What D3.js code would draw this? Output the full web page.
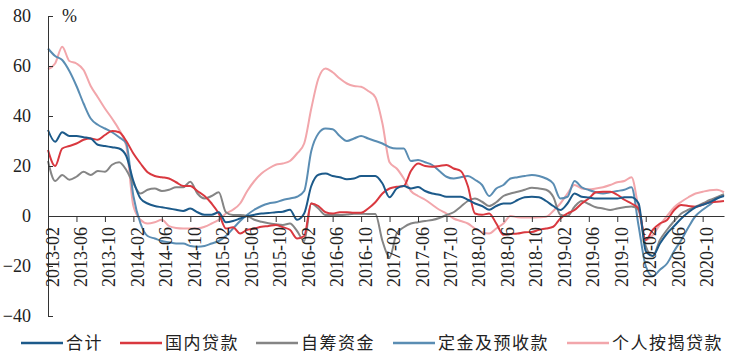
<!DOCTYPE html>
<html><head><meta charset="utf-8">
<script src="https://cdn.jsdelivr.net/npm/d3@7"></script>
<style>
html,body{margin:0;padding:0;background:#fff;}
svg{display:block;}
</style></head>
<body>
<svg id="chart" width="734" height="363"></svg>
<script>
// categories: monthly 2013-02 .. 2020-12
const startYear = 2013, startMonth = 2, nMonths = 96;
const months = [];
for (let k = 0; k < nMonths; k++) {
  const m0 = startMonth - 1 + k;
  const yy = startYear + Math.floor(m0 / 12), mm = (m0 % 12) + 1;
  months.push(yy + "-" + String(mm).padStart(2, "0"));
}
const xTickLabels = ["2013-02","2013-06","2013-10","2014-02","2014-06","2014-10","2015-02","2015-06","2015-10","2016-02","2016-06","2016-10","2017-02","2017-06","2017-10","2018-02","2018-06","2018-10","2019-02","2019-06","2019-10","2020-02","2020-06","2020-10"];
const yTicks = [-40,-20,0,20,40,60,80];

const seriesNames = ["合计","国内贷款","自筹资金","定金及预收款","个人按揭贷款"];

const total = [34.4,29.7,33.5,32,32,31.5,31,28.5,28,27.5,27,24,
14,7,5,4,3.5,3,2.5,2,3,1.5,0.5,0.5,
1.5,-2.5,-2,-1,0,0.5,1,1.2,1.5,1.7,2.5,-1.5,
1,12,16.5,17,16,15.5,14.7,15,16,16,16,13,
7.5,11,12,11,11.6,10,9,8.5,7.7,7.7,7.7,6.5,
5,4,2.5,4,5,5,6.4,7.5,7.7,7.5,6,4,
2.4,5,9,7.7,7.4,7,7,7,7,7.5,7.5,5,
-14,-16,-11,-7,-4,-1,1.5,3.5,4.5,5.5,7,8];

const domesticLoans = [26.4,20,27,28,29,30.5,31,30.5,32.4,34,33.5,30,
25,21,17.5,16,15.5,15,13.5,12,12,10,8,5,
1,-5,-4.5,-7,-5.5,-5,-4.3,-4,-3.6,-4.5,-5.5,-9,
-8,5,4,1.5,1,1.5,1.5,1.3,1.3,3,5.5,9,
11,11.7,12,18,21,20,19.7,20,20.4,19,18,12,
1,0.5,1,-3,-7.5,-7.2,-7,-6.5,-6.4,-5.5,-5,-4.3,
-1,1,2.4,5,7,9.5,9.7,9.7,8.5,6.5,5,3,
-9.6,-5.5,-3,-1.6,2.4,4.4,4,3.7,4.5,5.5,5.7,6];

const selfRaised = [22,14,16.4,14.5,15.7,17.7,16.4,18,17.7,20.5,21.5,18.4,
13,9,10.5,11,10,10.5,11.5,11.5,13.7,9,7,8,
9.5,1.5,0.4,0.4,0,-1.5,-2.3,-2.9,-3.3,-3.6,-3,-6,
-10,5,3,0.4,0.4,0.4,0.6,0.9,0.9,0.8,0.8,-10,
-16.5,-7,-4.5,-3,-2.5,-2,-1.6,-0.8,0.4,1.5,3.7,6,
7,5.7,4,5.5,8,9,9.7,10.5,11.3,11,10.5,7.7,
0.5,0,3.7,6,4.8,3.5,3,2.4,3,3.5,3.8,2.4,
-12,-16,-9.6,-5.5,-2,1,2.5,3.7,5,6.4,7.5,8.7];

const deposits = [67,64,62.4,58,52,45,39,36.5,35,33.5,31.5,29,
8,-3,-8,-9,-10,-10.5,-11,-11,-12,-12.3,-12,-11,
-10,-8,-5,-2,0.5,2.5,4,5,5.5,6.4,7,7.7,
10,26,33,35,34.7,32,30,31,32,31,30,29,
27.5,27,27,22,22.4,21.5,20.4,18,15.7,15,15.5,16,
14.5,12.4,8,11,12.4,15,15.5,16,16.4,16,15,13,
7,7.7,14,11.5,10.4,9.5,9,9.5,10,10.5,11.5,-4,
-20,-24,-21.5,-19,-14,-9.6,-4.5,0,2.5,4.5,7,8.5];

const mortgage = [58.7,61,67.7,62,61,58.4,52,47.5,43,39,34.5,28,
4,-1.5,-3,-2.5,-1.5,-4,-4.8,-5,-5,-5,-4.3,-3,
-1.5,1,2.5,5,10,14,17,19,20.5,21,22,25,
29,43,55,59,57.5,55,53,52,51.7,50,47.5,37,
21.5,19,15,10,8,6.5,4.5,2.5,1,-1,-2,-3,
-5,-6.5,-7,-5,-3,0,-0.5,-0.6,-0.6,-0.5,-0.3,2,
5,9,12.4,11,10.7,11,11.5,12.4,13.5,14,15.5,3,
-9.6,-7.6,-3.5,0,3.5,5.7,7.5,9,9.7,10.3,10.5,9.5];

const seriesValues = [total, domesticLoans, selfRaised, deposits, mortgage];
const colors = ["#1c5a8a","#d9383f","#858585","#5a8db3","#f2a6ab"];

const svg = d3.select("#chart");
const plotLeft = 48, plotRight = 724, plotTop = 16, plotBottom = 316;

const x = d3.scalePoint().domain(d3.range(nMonths)).range([plotLeft, plotRight]);
const y = d3.scaleLinear().domain([-40, 80]).range([plotBottom, plotTop]);

const serif = "'Liberation Serif','Times New Roman',serif";
const cjk = "'Noto Sans CJK SC','Noto Sans CJK TC',sans-serif";

const line = d3.line().x((d, i) => x(i)).y(d => y(d)).curve(d3.curveMonotoneX);
const order = [4, 3, 2, 1, 0];
order.forEach(k => {
  svg.append("path")
    .datum(seriesValues[k])
    .attr("fill", "none")
    .attr("stroke", colors[k])
    .attr("stroke-width", 2)
    .attr("stroke-linejoin", "round")
    .attr("d", line);
});

// y axis
const yAxis = d3.axisLeft(y).tickValues(yTicks).tickSize(-5).tickSizeOuter(0).tickPadding(17);
const gy = svg.append("g").attr("transform", `translate(${plotLeft},0)`).call(yAxis);
gy.select(".domain").attr("stroke", "#333").attr("stroke-width", 1);
gy.selectAll(".tick line").attr("stroke", "#333");
gy.selectAll(".tick text").attr("font-family", serif).attr("font-size", 18).attr("fill", "#222");

// x axis at zero
const tickIdx = xTickLabels.map(s => months.indexOf(s));
const xAxis = d3.axisBottom(x).tickValues(tickIdx).tickSize(6).tickSizeOuter(0)
  .tickFormat(i => months[i]);
const gx = svg.append("g").attr("transform", `translate(0,${y(0)})`).call(xAxis);
gx.select(".domain").attr("stroke", "#333").attr("stroke-width", 1);
gx.selectAll(".tick line").attr("stroke", "#333");
gx.selectAll(".tick text")
  .attr("font-family", serif).attr("font-size", 18).attr("fill", "#222")
  .attr("transform", "rotate(-90)")
  .attr("text-anchor", "end")
  .attr("x", -11).attr("y", 10).attr("dy", 0);

// unit label
svg.append("text").attr("x", 62).attr("y", 22)
  .attr("font-family", serif).attr("font-size", 18).attr("fill", "#222").text("%");

// legend
const legendLineX = [21, 120, 256, 393, 567];
const legendY = 343;
seriesNames.forEach((name, k) => {
  const lx = legendLineX[k];
  svg.append("line").attr("x1", lx).attr("x2", lx + 42)
    .attr("y1", legendY).attr("y2", legendY)
    .attr("stroke", colors[k]).attr("stroke-width", 2.5);
  svg.append("text").attr("x", lx + 45).attr("y", legendY).attr("dy", "0.35em")
    .attr("font-family", cjk).attr("font-size", 17).attr("letter-spacing", 1.5)
    .attr("fill", "#222").text(name);
});
</script>
</body></html>
